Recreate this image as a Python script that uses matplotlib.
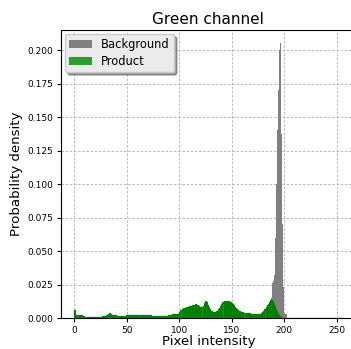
import matplotlib
matplotlib.use("Agg")
import matplotlib.pyplot as plt
import numpy as np

# pixel intensity bins (0..255), one value per bin
pixel = np.arange(256)

# background histogram: only bins 184..201 are non-zero
background_bins = np.arange(184, 202)
background_vals = [0.002, 0.004, 0.008, 0.015, 0.026, 0.028, 0.032, 0.06, 0.10, 0.14,
                   0.17, 0.20, 0.205, 0.137, 0.07, 0.023, 0.004, 0.003]

# product histogram, bins 0..199
product_vals = [
    0.006, 0.0025, 0.002, 0.0018, 0.0022, 0.0026, 0.0022, 0.0016, 0.0012, 0.001,
    0.0009, 0.0008, 0.0008, 0.0008, 0.0008, 0.0008, 0.0008, 0.0008, 0.0008, 0.0008,
    0.0008, 0.0009, 0.0009, 0.001, 0.001, 0.0011, 0.0012, 0.0013, 0.0015, 0.0018,
    0.0022, 0.0026, 0.003, 0.0035, 0.0032, 0.0024, 0.0026, 0.0022, 0.002, 0.0025,
    0.0016, 0.0016, 0.0016, 0.0016, 0.0016, 0.0016, 0.0016, 0.0017, 0.0018, 0.0019,
    0.0021, 0.0021, 0.0021, 0.0021, 0.0021, 0.0021, 0.0021, 0.0021, 0.0021, 0.0021,
    0.002, 0.002, 0.002, 0.002, 0.002, 0.002, 0.002, 0.002, 0.002, 0.002,
    0.0019, 0.0019, 0.0019, 0.0018, 0.0017, 0.0015, 0.0015, 0.0015, 0.0015, 0.0015,
    0.0016, 0.0016, 0.0016, 0.0016, 0.0016, 0.0016, 0.0016, 0.0016, 0.0018, 0.002,
    0.0022, 0.0024, 0.0026, 0.0028, 0.003, 0.003, 0.003, 0.003, 0.003, 0.003,
    0.0045, 0.006, 0.0068, 0.0072, 0.0075, 0.0078, 0.008, 0.0082, 0.0085, 0.0088,
    0.009, 0.0093, 0.0095, 0.0098, 0.01, 0.0102, 0.01, 0.0096, 0.009, 0.0082,
    0.0078, 0.0082, 0.009, 0.011, 0.013, 0.012, 0.0095, 0.008, 0.0065, 0.0055,
    0.005, 0.0048, 0.0047, 0.0047, 0.0048, 0.005, 0.0055, 0.0065, 0.0078, 0.009,
    0.0105, 0.0118, 0.0125, 0.0122, 0.0128, 0.0124, 0.0127, 0.012, 0.0118, 0.0112,
    0.0105, 0.0095, 0.0085, 0.0075, 0.0068, 0.006, 0.0055, 0.005, 0.0046, 0.0043,
    0.0042, 0.0041, 0.004, 0.004, 0.0038, 0.0037, 0.0035, 0.0033, 0.0032, 0.0031,
    0.003, 0.0029, 0.0028, 0.0028, 0.0027, 0.0028, 0.003, 0.0033, 0.0038, 0.0045,
    0.0055, 0.0068, 0.008, 0.0095, 0.0108, 0.012, 0.0132, 0.0138, 0.0125, 0.0105,
    0.009, 0.007, 0.005, 0.0035, 0.002, 0.0012, 0.0006, 0.0002, 0.0, 0.0,
]

background = np.zeros(256)
background[background_bins] = background_vals
product = np.zeros(256)
product[:len(product_vals)] = product_vals

fig = plt.figure(figsize=(3.51, 3.49), dpi=100)
ax = fig.add_axes([0.1738, 0.0888, 0.8392, 0.8252])

ax.bar(pixel, background, width=1.0, align="edge", color="gray", label="Background", zorder=2)
ax.bar(pixel, product, width=1.0, align="edge", color="#2ca02c", edgecolor="#008000",
       linewidth=0.9, label="Product", zorder=3)

ax.set_xlim(-12.75, 267.75)
ax.set_ylim(0, 0.215)
ax.set_xticks([0, 50, 100, 150, 200, 250])
ax.set_yticks(np.arange(0, 0.2001, 0.025))
ax.yaxis.set_major_formatter(matplotlib.ticker.FormatStrFormatter("%.3f"))
ax.tick_params(labelsize=6.5, length=3, width=0.8, pad=2.5)
ax.grid(True, linestyle=(0, (3, 2)), color="#b0b0b0", linewidth=0.6, zorder=0)
ax.set_axisbelow(True)

ax.set_title("Green channel", fontsize=11, pad=4)
ax.set_xlabel("Pixel intensity", fontsize=9.6, labelpad=0)
ax.set_ylabel("Probability density", fontsize=9.6, labelpad=3)

leg = ax.legend(loc="upper left", fontsize=8.3, fancybox=True, shadow=True,
                facecolor="#ebebeb", framealpha=1, borderpad=0.35, handlelength=2.0,
                labelspacing=0.35, borderaxespad=0.35)
for p in leg.get_patches():
    p.set_edgecolor("none")

fig.savefig("out.png", dpi=100)
